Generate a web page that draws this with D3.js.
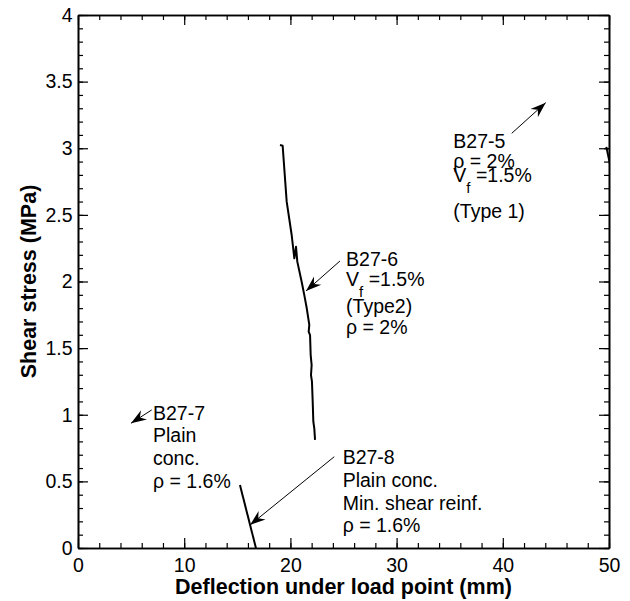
<!DOCTYPE html>
<meta charset="utf-8">
<title>Shear stress vs deflection</title>
<style>
  body { margin: 0; background: #fff; }
  text { font-family: "Liberation Sans", Arial, sans-serif; fill: #000; }
</style>
<body>
<script src="https://cdnjs.cloudflare.com/ajax/libs/d3/7.8.5/d3.min.js"></script>
<script>

// B27-6 measured curve (deflection mm, shear stress MPa)
const b276X = [19.02, 19.27, 19.65, 20.12, 20.37, 20.53, 20.65, 21.06, 21.31, 21.54, 21.78, 21.72, 21.85, 21.91, 22.0, 21.94, 22.03, 22.1, 22.16, 22.25, 22.32];
const b276Y = [3.024, 3.019, 2.599, 2.349, 2.174, 2.261, 2.149, 1.998, 1.898, 1.799, 1.674, 1.623, 1.598, 1.448, 1.373, 1.298, 1.248, 1.098, 0.948, 0.898, 0.811];

// B27-8 and B27-5 (only short pieces inside the frame)
const b278X = [15.25, 16.85];
const b278Y = [0.473, -0.03];
const b275X = [49.75, 50.2];
const b275Y = [3.01, 2.84];

const xMajor = [0, 10, 20, 30, 40, 50];
const xMinor = d3.range(0, 50.01, 2);
const yMajor = [0, 0.5, 1, 1.5, 2, 2.5, 3, 3.5, 4];
const yMinor = d3.range(0, 4.001, 0.1);
const yTickLabels = ["0", "0.5", "1", "1.5", "2", "2.5", "3", "3.5", "4"];

// annotation arrows: [x tail, y tail, x tip, y tip]
const arrows = [
  [40.84, 3.112, 44.04, 3.342],
  [24.67, 2.154, 21.47, 1.929],
  [6.94, 1.036, 4.99, 0.936],
  [24.13, 0.685, 16.2, 0.173]
];

const labels = [
  { x: 35.34, y: 3.002, lines: ["B27-5", "ρ = 2%", "Vf", "(Type 1)"], gaps: [0, 20, 14, 36] },
  { x: 25.24, y: 2.116, lines: ["B27-6", "Vf", "(Type2)", "ρ = 2%"], gaps: [0, 20, 27, 21] },
  { x: 7.06, y: 0.961, lines: ["B27-7", "Plain", "conc.", "ρ = 1.6%"], gaps: [0, 22, 23, 23] },
  { x: 24.92, y: 0.630, lines: ["B27-8", "Plain conc.", "Min. shear reinf.", "ρ = 1.6%"], gaps: [0, 23, 23, 22] }
];

const width = 630, height = 601;
const margin = { top: 15, right: 21, bottom: 53, left: 78 };

const svg = d3.select("body").append("svg")
    .attr("width", width)
    .attr("height", height);

const x = d3.scaleLinear().domain([0, 50]).range([margin.left, width - margin.right]);
const y = d3.scaleLinear().domain([0, 4]).range([height - margin.bottom, margin.top]);

svg.append("defs").append("clipPath").attr("id", "plot")
  .append("rect")
    .attr("x", x(0)).attr("y", y(4))
    .attr("width", x(50) - x(0)).attr("height", y(0) - y(4));

svg.select("defs").append("marker")
    .attr("id", "head")
    .attr("markerUnits", "userSpaceOnUse")
    .attr("viewBox", "-16 -6 17 12")
    .attr("markerWidth", 17).attr("markerHeight", 12)
    .attr("refX", 0).attr("refY", 0)
    .attr("orient", "auto")
  .append("path")
    .attr("d", "M0,0 L-15.5,-5.5 L-10.5,0 L-15.5,5.5 Z")
    .attr("fill", "#000");

// axes with inward ticks on all four sides
const fontSize = 19.5;
function styleAxis(g) {
  g.select(".domain").attr("stroke-width", 1.6);
  g.selectAll(".tick line").attr("stroke-width", 1.2);
  g.selectAll("text").style("font-size", fontSize + "px").attr("font-family", null);
}

svg.append("g")
    .attr("transform", `translate(0,${y(0)})`)
    .call(d3.axisBottom(x).tickValues(xMinor).tickSize(-5).tickSizeOuter(0).tickFormat(""))
    .call(styleAxis);
svg.append("g")
    .attr("transform", `translate(0,${y(0)})`)
    .call(d3.axisBottom(x).tickValues(xMajor).tickSize(-10).tickSizeOuter(0).tickPadding(10.5).tickFormat(d3.format("d")))
    .call(styleAxis);
svg.append("g")
    .attr("transform", `translate(0,${y(4)})`)
    .call(d3.axisTop(x).tickValues(xMinor).tickSize(-5).tickSizeOuter(0).tickFormat(""))
    .call(styleAxis);
svg.append("g")
    .attr("transform", `translate(0,${y(4)})`)
    .call(d3.axisTop(x).tickValues(xMajor).tickSize(-10).tickSizeOuter(0).tickFormat(""))
    .call(styleAxis);

svg.append("g")
    .attr("transform", `translate(${x(0)},0)`)
    .call(d3.axisLeft(y).tickValues(yMinor).tickSize(-5).tickSizeOuter(0).tickFormat(""))
    .call(styleAxis);
svg.append("g")
    .attr("transform", `translate(${x(0)},0)`)
    .call(d3.axisLeft(y).tickValues(yMajor).tickSize(-10).tickSizeOuter(0).tickPadding(5.5).tickFormat((d, i) => yTickLabels[i]))
    .call(styleAxis);
svg.append("g")
    .attr("transform", `translate(${x(50)},0)`)
    .call(d3.axisRight(y).tickValues(yMinor).tickSize(-5).tickSizeOuter(0).tickFormat(""))
    .call(styleAxis);
svg.append("g")
    .attr("transform", `translate(${x(50)},0)`)
    .call(d3.axisRight(y).tickValues(yMajor).tickSize(-10).tickSizeOuter(0).tickFormat(""))
    .call(styleAxis);

// axis titles
svg.append("text")
    .attr("x", (x(0) + x(50)) / 2)
    .attr("y", 594)
    .attr("text-anchor", "middle")
    .style("font-size", "21.5px")
    .style("font-weight", "bold")
    .text("Deflection under load point (mm)");

svg.append("text")
    .attr("transform", `translate(36,${(y(0) + y(4)) / 2}) rotate(-90)`)
    .attr("text-anchor", "middle")
    .style("font-size", "21.5px")
    .style("font-weight", "bold")
    .text("Shear stress (MPa)");

// curves
const line = d3.line().x(d => x(d[0])).y(d => y(d[1]));
const curves = [
  [b276X, b276Y],
  [b278X, b278Y],
  [b275X, b275Y]
];
svg.append("g").attr("clip-path", "url(#plot)")
  .selectAll("path")
  .data(curves)
  .join("path")
    .attr("d", d => line(d3.zip(d[0], d[1])))
    .attr("fill", "none")
    .attr("stroke", "#000")
    .attr("stroke-width", 2)
    .attr("stroke-linejoin", "round");

// arrows
svg.append("g").selectAll("line")
  .data(arrows)
  .join("line")
    .attr("x1", d => x(d[0])).attr("y1", d => y(d[1]))
    .attr("x2", d => x(d[2])).attr("y2", d => y(d[3]))
    .attr("stroke", "#000")
    .attr("stroke-width", 1)
    .attr("marker-end", "url(#head)");

// labels
const lab = svg.append("g").selectAll("text")
  .data(labels)
  .join("text")
    .attr("x", d => x(d.x))
    .attr("y", d => y(d.y))
    .style("font-size", fontSize + "px");

lab.each(function(d) {
  const t = d3.select(this);
  d.lines.forEach((s, i) => {
    if (s === "Vf") {
      t.append("tspan").attr("x", x(d.x)).attr("dy", d.gaps[i]).text("V");
      t.append("tspan").attr("dy", 11).style("font-size", "15px").text("f");
      t.append("tspan").attr("dy", -11).text(" =1.5%");
    } else {
      t.append("tspan").attr("x", x(d.x)).attr("dy", d.gaps[i]).text(s);
    }
  });
});

</script>
</body>
